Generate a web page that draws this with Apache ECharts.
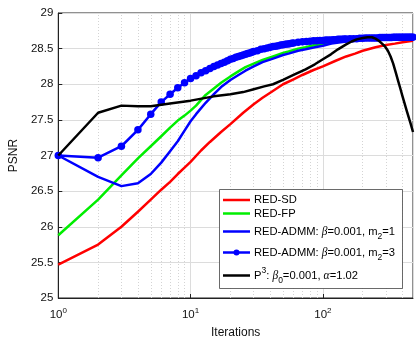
<!DOCTYPE html>
<html><head><meta charset="utf-8">
<script src="https://cdn.jsdelivr.net/npm/echarts@6/dist/echarts.min.js"></script>
<style>html,body{margin:0;padding:0;background:#fff}#c{width:416px;height:344px}</style>
</head><body><div id="c"></div>
<script>
// ---- data ----
var sdIter = [1,2,3,4,5,6,7,8,9,10,12,14,17,20,25,30,35,40,50,60,70,85,100,125,150,175,200,250,300,350,400,480];
var sdVal  = [25.47,25.75,26.00,26.21,26.38,26.52,26.63,26.74,26.83,26.91,27.07,27.19,27.33,27.44,27.60,27.72,27.81,27.88,28.00,28.07,28.13,28.20,28.25,28.33,28.39,28.43,28.47,28.52,28.55,28.57,28.59,28.61];

var fpIter = [1,2,3,4,5,6,7,8,9,10,11,13,15,17,20,23,26,30,35,42,50,55,65,74,87,100,125,150,200,300,480];
var fpVal  = [25.88,26.38,26.72,26.96,27.13,27.27,27.39,27.49,27.56,27.63,27.70,27.85,27.94,28.02,28.11,28.18,28.24,28.29,28.34,28.39,28.44,28.46,28.50,28.52,28.55,28.56,28.59,28.61,28.63,28.64,28.65];

var adm1Iter = [1,2,3,4,5,6,7,8,9,10,11,13,15,17,20,23,26,30,35,42,50,55,65,74,87,100,116,150,200,300,480];
var adm1Val  = [27.00,26.70,26.57,26.61,26.74,26.90,27.06,27.20,27.35,27.48,27.58,27.74,27.86,27.96,28.06,28.13,28.19,28.25,28.31,28.36,28.41,28.43,28.47,28.49,28.52,28.54,28.57,28.60,28.62,28.64,28.65];

var adm3Iter = [1,2,3,4,5,6,7,8,9,10,11,12,13,14,15,16,17,18,19,20,21,22,23,24,25,26,27,28,29,30,
  32,34,36,38,40,42,44,46,48,50,52,54,56,58,60,65,70,75,80,85,90,95,100,105,110,115,120,125,130,135,140,145,150,
  160,170,180,190,200,210,220,230,240,250,260,270,280,290,300,310,320,330,340,350,360,370,380,390,400,410,420,430,440,450,460,470,480];
var adm3Val  = [27.00,26.97,27.13,27.36,27.58,27.75,27.86,27.95,28.02,28.08,28.12,28.16,28.19,28.22,28.25,28.27,28.29,28.31,28.33,28.35,28.36,28.38,28.39,28.40,28.41,28.42,28.43,28.44,28.45,28.46,
  28.47,28.49,28.50,28.51,28.52,28.53,28.535,28.54,28.55,28.555,28.56,28.565,28.57,28.575,28.58,28.59,28.595,28.60,28.605,28.61,28.61,28.615,28.615,28.62,28.62,28.62,28.625,28.625,28.63,28.63,28.63,28.635,28.635,
  28.64,28.64,28.64,28.645,28.645,28.65,28.65,28.65,28.65,28.65,28.65,28.655,28.655,28.655,28.655,28.655,28.655,28.655,28.66,28.66,28.66,28.66,28.66,28.66,28.66,28.66,28.66,28.66,28.66,28.66,28.66,28.66,28.66];

var p3Iter = [1,2,3,4,5,7,10,15,20,25,30,36,42,50,60,74,87,100,115,130,150,165,180,200,218,235,250,265,280,295,310,325,340,355,370,385,400,430,460,480];
var p3Val  = [27.00,27.60,27.70,27.69,27.69,27.73,27.77,27.83,27.86,27.89,27.93,27.97,28.00,28.06,28.13,28.21,28.28,28.35,28.42,28.49,28.56,28.60,28.63,28.65,28.66,28.66,28.64,28.61,28.57,28.53,28.47,28.39,28.29,28.17,28.05,27.94,27.83,27.63,27.45,27.33];

var yTicks = [25,25.5,26,26.5,27,27.5,28,28.5,29];
var minorX = [2,3,4,5,6,7,8,9,20,30,40,50,60,70,80,90,200,300,400];

function pairs(xs, ys){ return xs.map(function(x,i){ return [x, ys[i]]; }); }

var FONT = 'Liberation Sans, Arial, Helvetica, sans-serif';
var chart = echarts.init(document.getElementById('c'), null, {renderer:'canvas'});

function lineSeries(name, xs, ys, color, extra){
  var s = {
    name: name, type: 'line', data: pairs(xs, ys), symbol: 'none', smooth: false,
    lineStyle: {color: color, width: 2.5, join: 'round'}, itemStyle: {color: color},
    z: 3, animation: false, silent: true
  };
  for (var k in (extra||{})) s[k] = extra[k];
  return s;
}

var legendItems = [
  {y: 200, color: '#ff0000', rich: '{t|RED-SD}'},
  {y: 213.5, color: '#00ee00', rich: '{t|RED-FP}'},
  {y: 231.5, color: '#0000ff', rich: '{t|RED-ADMM: }{g|β}{t|=0.001, m}{sub|2}{t|=1}'},
  {y: 252.5, color: '#0000ff', rich: '{t|RED-ADMM: }{g|β}{t|=0.001, m}{sub|2}{t|=3}', marker: true},
  {y: 275.5, color: '#000000', rich: '{t|P}{sup|3}{t|: }{g|β}{sub|0}{t|=0.001, }{g|α}{t|=1.02}'}
];
var richStyles = {
  t: {fontSize: 11.2, fontFamily: FONT, color: '#111', lineHeight: 19},
  g: {fontSize: 11.5, fontFamily: 'Liberation Serif, DejaVu Serif, serif', fontStyle: 'italic', color: '#111', lineHeight: 19},
  sub: {fontSize: 8.5, fontFamily: FONT, color: '#111', lineHeight: 9, verticalAlign: 'bottom'},
  sup: {fontSize: 8.5, fontFamily: FONT, color: '#111', lineHeight: 9, verticalAlign: 'top'}
};
var graphics = [{
  type: 'rect', shape: {x: 219.5, y: 189.5, width: 183, height: 99},
  style: {fill: '#fff', stroke: '#444', lineWidth: 0.8}, z: 100
}];
legendItems.forEach(function(it){
  graphics.push({type: 'line', shape: {x1: 223, y1: it.y, x2: 250, y2: it.y},
    style: {stroke: it.color, lineWidth: 2.5}, z: 101});
  if (it.marker) graphics.push({type: 'circle', shape: {cx: 236.5, cy: it.y, r: 3}, style: {fill: it.color}, z: 102});
  graphics.push({type: 'text', x: 254, y: it.y, z: 101,
    style: {text: it.rich, rich: richStyles, verticalAlign: 'middle', align: 'left'}});
});

var option = {
  backgroundColor: '#fff',
  animation: false,
  grid: {left: 52, right: 3, top: 13, bottom: 43, containLabel: false, show: true,
         borderColor: '#222', borderWidth: 1, backgroundColor: '#fff'},
  xAxis: {
    type: 'log', logBase: 10, min: 1, max: 480,
    name: 'Iterations', nameLocation: 'middle', nameGap: 29,
    nameTextStyle: {fontSize: 12, fontFamily: FONT, color: '#111'},
    axisLine: {show: true, lineStyle: {color: '#222', width: 1}},
    axisTick: {show: true, inside: true, length: 4, lineStyle: {color: '#222'}},
    axisLabel: {
      showMaxLabel: false, margin: 9, color: '#111',
      formatter: function(v){
        var l = Math.log(v)/Math.LN10, e = Math.round(l);
        if (Math.abs(l - e) > 1e-6) return '';
        return '{b|10}{s|' + e + '}';
      },
      rich: {
        b: {fontSize: 11.5, fontFamily: FONT, color: '#111', lineHeight: 16},
        s: {fontSize: 8, fontFamily: FONT, color: '#111', lineHeight: 9, verticalAlign: 'top'}
      }
    },
    splitLine: {show: true, lineStyle: {color: '#dcdcdc', width: 1}},
    minorTick: {show: false}, minorSplitLine: {show: false}
  },
  yAxis: {
    type: 'value', min: 25, max: 29, interval: 0.5,
    name: 'PSNR', nameLocation: 'middle', nameGap: 31, nameRotate: 90,
    nameTextStyle: {fontSize: 12, fontFamily: FONT, color: '#111'},
    axisLine: {show: true, lineStyle: {color: '#222', width: 1}},
    axisTick: {show: true, inside: true, length: 4, lineStyle: {color: '#222'}},
    axisLabel: {fontSize: 11.5, fontFamily: FONT, color: '#111', margin: 5,
      formatter: function(v){ return yTicks.indexOf(v) >= 0 ? String(v) : ''; }},
    splitLine: {show: true, lineStyle: {color: '#dcdcdc', width: 1}}
  },
  series: [
    lineSeries('RED-SD', sdIter, sdVal, '#ff0000', {
      markLine: {
        silent: true, symbol: 'none', animation: false, z: 1,
        label: {show: false},
        lineStyle: {color: '#d4d4d4', type: [1, 2], width: 1},
        data: minorX.map(function(x){ return {xAxis: x}; })
      }
    }),
    lineSeries('RED-FP', fpIter, fpVal, '#00ee00'),
    lineSeries('RED-ADMM m2=1', adm1Iter, adm1Val, '#0000ff'),
    lineSeries('RED-ADMM m2=3', adm3Iter, adm3Val, '#0000ff', {
      symbol: 'circle', symbolSize: 7.5, showSymbol: true, showAllSymbol: true, z: 4
    }),
    lineSeries('P3', p3Iter, p3Val, '#000000', {z: 5})
  ],
  graphic: graphics
};
chart.setOption(option);
</script>
</body></html>
